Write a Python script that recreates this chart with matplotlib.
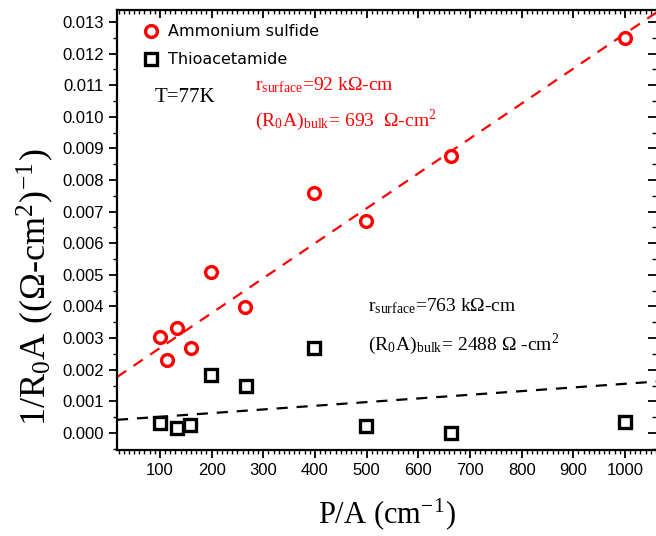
import matplotlib
matplotlib.use("Agg")
import matplotlib.pyplot as plt
import numpy as np
from matplotlib.ticker import MultipleLocator, FixedLocator

plt.rcParams['mathtext.fontset'] = 'stix'
plt.rcParams['font.family'] = ['Liberation Serif', 'DejaVu Serif']

# Data
pa_amm = [100, 113, 133, 160, 199, 265, 398, 498, 663, 1000]
inv_r0a_amm = [0.00302, 0.00231, 0.00332, 0.00270, 0.00510, 0.00399, 0.00759, 0.00672, 0.00877, 0.01250]

pa_thio = [100, 133, 159, 199, 266, 399, 499, 663, 1000]
inv_r0a_thio = [0.00031, 0.00017, 0.00025, 0.00184, 0.00149, 0.00270, 0.00022, 0.00000, 0.00034]

# Fit lines (intercept, slope)
fit_amm = (0.00158, 1.105e-5)
fit_thio = (0.000395, 1.16e-6)

x_ticks = [100, 200, 300, 400, 500, 600, 700, 800, 900, 1000]
y_ticks = [0.000, 0.001, 0.002, 0.003, 0.004, 0.005, 0.006, 0.007, 0.008, 0.009, 0.010, 0.011, 0.012, 0.013]

fig = plt.figure(figsize=(6.56, 5.36), dpi=100)
ax = fig.add_axes([117/656, 86/536, 1 - 117/656, (450 - 10)/536])

xlim = (17, 1060)
ylim = (-0.00054, 0.01338)

xl = np.array(xlim)
ax.plot(xl, fit_amm[0] + fit_amm[1] * xl, color='red', ls=(0, (5, 4)), lw=1.6, zorder=1)
ax.plot(xl, fit_thio[0] + fit_thio[1] * xl, color='black', ls=(0, (5, 4)), lw=1.6, zorder=1)

ax.plot(pa_amm, inv_r0a_amm, 'o', ms=8.5, mfc='white', mec='red', mew=2.4,
        label='Ammonium sulfide', zorder=3)
ax.plot(pa_thio, inv_r0a_thio, 's', ms=8.0, mfc='white', mec='black', mew=2.4,
        label='Thioacetamide', zorder=3)

ax.set_xlim(*xlim)
ax.set_ylim(*ylim)

ax.xaxis.set_major_locator(FixedLocator(x_ticks))
ax.xaxis.set_minor_locator(MultipleLocator(10))
ax.yaxis.set_major_locator(FixedLocator(y_ticks))
ax.yaxis.set_minor_locator(MultipleLocator(0.0005))
ax.set_xticklabels([str(v) for v in x_ticks])
ax.set_yticklabels([f"{v:.3f}" for v in y_ticks])

for s in ['left', 'bottom', 'top']:
    ax.spines[s].set_linewidth(1.6)
ax.spines['right'].set_visible(False)

ax.tick_params(axis='both', which='major', labelsize=12, width=1.3, length=6,
               labelfontfamily='Liberation Sans')
ax.tick_params(axis='both', which='minor', width=1.0, length=3)
ax.tick_params(axis='x', which='both', direction='out', top=True)
ax.tick_params(axis='y', which='both', direction='out', right=True)
# top/right ticks point inward
for t in ax.xaxis.get_major_ticks() + ax.xaxis.get_minor_ticks():
    t.tick2line.set_marker(matplotlib.lines.TICKDOWN)
for t in ax.yaxis.get_major_ticks() + ax.yaxis.get_minor_ticks():
    t.tick2line.set_marker(matplotlib.lines.TICKLEFT)

ax.set_xlabel(r'P/A (cm$^{\mathregular{-1}}$)', fontsize=22, labelpad=13)
ax.set_ylabel(r'1/R$_{\mathregular{0}}$A ((Ω-cm$^{\mathregular{2}}$)$^{\mathregular{-1}}$)', fontsize=26)
ax.yaxis.set_label_coords(-0.113, 0.37)

leg = ax.legend(loc='upper left', bbox_to_anchor=(0.015, 1.0), frameon=False,
                prop={'family': 'DejaVu Sans', 'size': 11.5}, handletextpad=0.3,
                borderaxespad=0.5, labelspacing=0.8, handlelength=1.5)

ax.text(0.069, 0.80, 'T=77K', transform=ax.transAxes, fontsize=15,
        color='black', va='center')
ax.text(284, 0.0110, r'r$_{\mathregular{surface}}$=92 kΩ-cm', fontsize=14,
        color='red', va='center')
ax.text(284, 0.0099, r'(R$_{\mathregular{0}}$A)$_{\mathregular{bulk}}$= 693  Ω-cm$^{\mathregular{2}}$', fontsize=14,
        color='red', va='center')
ax.text(502, 0.0040, r'r$_{\mathregular{surface}}$=763 kΩ-cm', fontsize=14,
        color='black', va='center')
ax.text(502, 0.0028, r'(R$_{\mathregular{0}}$A)$_{\mathregular{bulk}}$= 2488 Ω -cm$^{\mathregular{2}}$', fontsize=14,
        color='black', va='center')

fig.savefig('out.png', dpi=100)
